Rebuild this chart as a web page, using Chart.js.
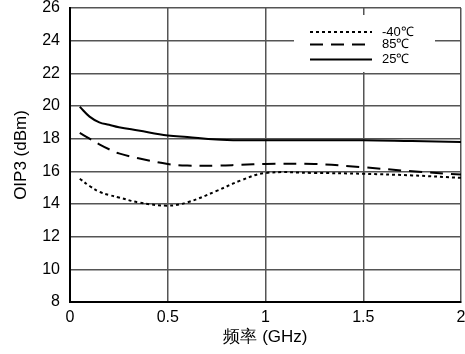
<!DOCTYPE html>
<html><head><meta charset="utf-8">
<script src="https://cdn.jsdelivr.net/npm/chart.js@4"></script>
<style>html,body{margin:0;padding:0;background:#fff}canvas{display:block}</style>
</head><body>
<canvas id="c" width="465" height="354"></canvas>
<script>
const freqs = [0.05, 0.1, 0.15, 0.2, 0.25, 0.35, 0.5, 0.6, 0.75, 0.875, 1.0, 1.25, 1.5, 1.75, 2.0];
const tM40 = [15.55, 15.1, 14.75, 14.55, 14.4, 14.1, 13.9, 14.1, 14.8, 15.45, 15.9, 15.9, 15.85, 15.75, 15.6];
const t85  = [18.35, 18.0, 17.65, 17.35, 17.1, 16.8, 16.45, 16.35, 16.35, 16.4, 16.45, 16.45, 16.25, 16.0, 15.8];
const t25  = [19.95, 19.35, 19.0, 18.85, 18.7, 18.5, 18.2, 18.1, 17.95, 17.9, 17.9, 17.9, 17.9, 17.85, 17.8];
const seriesNames = ['-40℃', '85℃', '25℃'];
const yTicks = [8, 10, 12, 14, 16, 18, 20, 22, 24, 26];
const xTicks = [0, 0.5, 1, 1.5, 2];

const pts = arr => arr.map((v, i) => ({x: freqs[i], y: v}));
const font = 'Arial, "Liberation Sans", sans-serif';

const legendPlugin = {
  id: 'boxLegend',
  afterDatasetsDraw(chart) {
    const ctx = chart.ctx;
    ctx.save();
    ctx.fillStyle = '#fff';
    ctx.fillRect(294, 15, 141, 57);
    const rows = [32, 44.5, 59.5];
    chart.data.datasets.forEach((ds, i) => {
      const y = rows[i];
      ctx.strokeStyle = '#000';
      ctx.lineWidth = 2;
      ctx.setLineDash(ds.borderDash || []);
      ctx.beginPath();
      ctx.moveTo(310, y);
      ctx.lineTo(372, y);
      ctx.stroke();
      ctx.setLineDash([]);
      ctx.fillStyle = '#000';
      ctx.font = '13px ' + font;
      ctx.textBaseline = 'middle';
      ctx.textAlign = 'left';
      ctx.fillText(ds.label, 382, y);
    });
    ctx.restore();
  }
};

new Chart(document.getElementById('c'), {
  type: 'line',
  data: {
    datasets: [
      {label: seriesNames[0], data: pts(tM40), borderColor: '#000', borderWidth: 2, borderDash: [3, 3], pointRadius: 0, tension: 0.4, fill: false},
      {label: seriesNames[1], data: pts(t85), borderColor: '#000', borderWidth: 2, borderDash: [13, 8], pointRadius: 0, tension: 0.4, fill: false},
      {label: seriesNames[2], data: pts(t25), borderColor: '#000', borderWidth: 2, pointRadius: 0, tension: 0.4, fill: false}
    ]
  },
  options: {
    responsive: false,
    animation: false,
    devicePixelRatio: 1,
    layout: {padding: {top: 8, right: 4, left: 0, bottom: 0}},
    plugins: {legend: {display: false}, tooltip: {enabled: false}},
    scales: {
      x: {
        type: 'linear', min: 0, max: 2,
        afterBuildTicks: s => { s.ticks = xTicks.map(v => ({value: v})); },
        afterFit: s => { s.height = 52; s.paddingLeft = 0; s.paddingRight = 0; },
        grid: {color: '#555', lineWidth: 1.5, drawTicks: false},
        border: {color: '#000', width: 2},
        ticks: {color: '#000', font: {size: 16, family: font}, padding: 6, maxRotation: 0, callback: v => String(v)},
        title: {display: true, text: '频率 (GHz)', color: '#000', font: {size: 17, family: font}, padding: {top: 0, bottom: 6}}
      },
      y: {
        type: 'linear', min: 8, max: 26,
        afterBuildTicks: s => { s.ticks = yTicks.map(v => ({value: v})); },
        afterFit: s => { s.width = 70; s.paddingTop = 0; s.paddingBottom = 0; },
        grid: {color: '#555', lineWidth: 1.5, drawTicks: false},
        border: {color: '#000', width: 2},
        ticks: {color: '#000', font: {size: 16, family: font}, padding: 10, callback: v => String(v)},
        title: {display: true, text: 'OIP3 (dBm)', color: '#000', font: {size: 17, family: font}, padding: {top: 11, bottom: 0}}
      }
    }
  },
  plugins: [legendPlugin]
});
</script>
</body></html>
